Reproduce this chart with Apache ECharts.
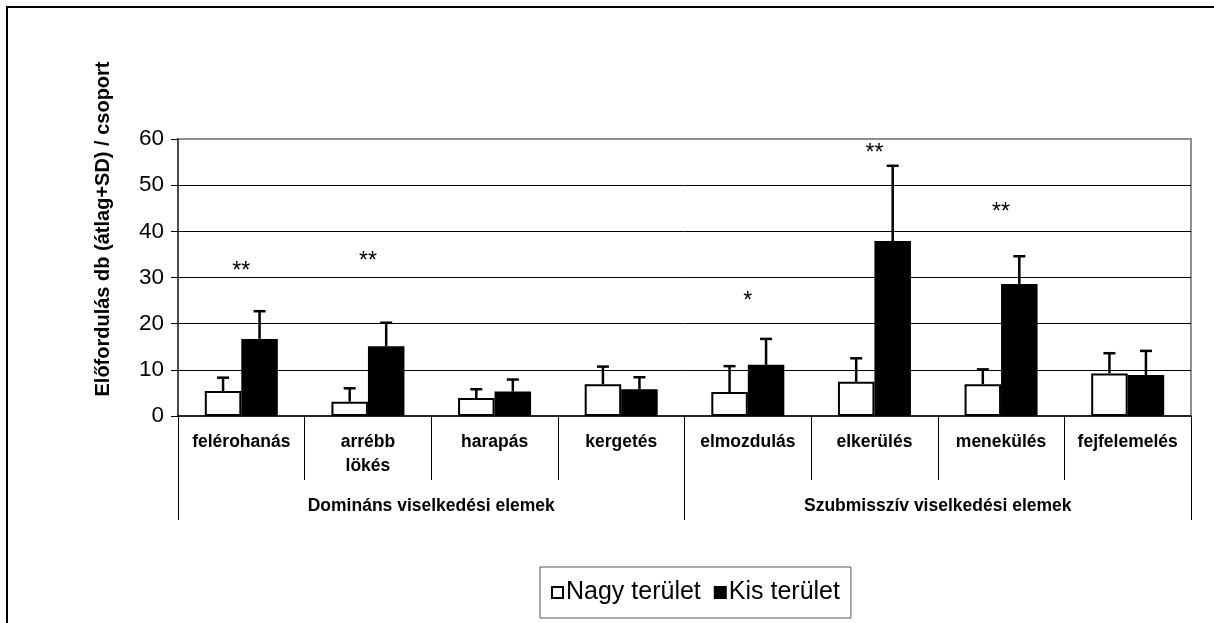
<!DOCTYPE html>
<html>
<head>
<meta charset="utf-8">
<script src="https://cdn.jsdelivr.net/npm/echarts@6/dist/echarts.min.js"></script>
<style>
  html, body { margin: 0; padding: 0; background: #fff; }
  #chart { width: 1214px; height: 623px; }
</style>
</head>
<body>
<div id="chart"></div>
<script>
const categories = ['felérohanás', 'arrébb\nlökés', 'harapás', 'kergetés', 'elmozdulás', 'elkerülés', 'menekülés', 'fejfelemelés'];
const groups = ['Domináns viselkedési elemek', 'Szubmisszív viselkedési elemek'];
const yTicks = [0, 10, 20, 30, 40, 50, 60];

// átlag + SD
const nagyMean = [5.4, 3.1, 3.9, 6.9, 5.2, 7.4, 6.9, 9.2];
const nagySD = [2.9, 2.9, 1.9, 3.8, 5.6, 5.1, 3.2, 4.4];
const kisMean = [16.7, 15.1, 5.3, 5.8, 11.1, 37.9, 28.6, 8.9];
const kisSD = [6.0, 5.1, 2.6, 2.6, 5.6, 16.3, 6.0, 5.2];

// szignifikancia jelek
const starText = ['**', '**', '', '', '*', '**', '**', ''];
const starY = [32.3, 34.6, null, null, 25.8, 58.0, 45.2, null];

const BAR_W = 36.5;
const FONT = 'Liberation Sans, Arial, sans-serif';

const myChart = echarts.init(document.getElementById('chart'));

function errorBar(offset) {
  return function (params, api) {
    const mean = api.value(1);
    const top = api.value(2);
    const p0 = api.coord([api.value(0), mean]);
    const p1 = api.coord([api.value(0), top]);
    const x = p0[0] + offset;
    const style = { stroke: '#000', lineWidth: 2.5 };
    return {
      type: 'group',
      children: [
        { type: 'line', shape: { x1: x, y1: p0[1], x2: x, y2: p1[1] }, style: style },
        { type: 'line', shape: { x1: x - 6, y1: p1[1], x2: x + 6, y2: p1[1] }, style: style },
      ],
    };
  };
}

const option = {
  animation: false,
  backgroundColor: '#fff',
  textStyle: { fontFamily: FONT },
  grid: {
    left: 178,
    right: 23,
    top: 139,
    bottom: 207,
    show: true,
    borderColor: '#909090',
    borderWidth: 2,
  },
  legend: {
    data: ['Nagy terület', 'Kis terület'],
    left: 540,
    top: 567,
    icon: 'rect',
    itemWidth: 11,
    itemHeight: 11,
    itemGap: 13,
    padding: [13, 11],
    borderColor: '#555',
    borderWidth: 1,
    textStyle: { fontSize: 25, color: '#000', fontFamily: FONT, padding: [0, 0, 0, -2] },
  },
  xAxis: [
    {
      type: 'category',
      data: categories,
      axisLine: { lineStyle: { color: '#000', width: 1.5 } },
      axisTick: { show: true, length: 64, lineStyle: { color: '#000', width: 1 } },
      axisLabel: {
        interval: 0,
        margin: 14,
        color: '#000',
        fontSize: 17.5,
        fontWeight: 'bold',
        lineHeight: 24,
        fontFamily: FONT,
      },
    },
    {
      type: 'category',
      data: groups,
      position: 'bottom',
      axisLine: { show: false },
      axisTick: { show: true, length: 104, lineStyle: { color: '#000', width: 1 } },
      axisLabel: {
        interval: 0,
        margin: 78,
        color: '#000',
        fontSize: 17.5,
        fontWeight: 'bold',
        lineHeight: 24,
        fontFamily: FONT,
      },
    },
  ],
  yAxis: {
    type: 'value',
    min: yTicks[0],
    max: yTicks[yTicks.length - 1],
    interval: 10,
    axisLine: { show: true, lineStyle: { color: '#333', width: 1.5 } },
    axisTick: { show: true, length: 7, lineStyle: { color: '#000' } },
    axisLabel: { color: '#000', fontSize: 22.5, margin: 14, fontFamily: FONT },
    splitLine: { show: true, showMinLine: false, showMaxLine: false, lineStyle: { color: '#000', width: 1 } },
  },
  graphic: [
    {
      type: 'rect',
      shape: { x: 7, y: 7, width: 1400, height: 900 },
      style: { fill: 'none', stroke: '#000', lineWidth: 2 },
      silent: true,
    },
    {
      type: 'text',
      x: 103,
      y: 229,
      rotation: Math.PI / 2,
      style: {
        text: 'Előfordulás db (átlag+SD) / csoport',
        font: 'bold 20px ' + FONT,
        fill: '#000',
        textAlign: 'center',
        textVerticalAlign: 'middle',
      },
    },
  ],
  series: [
    {
      name: 'Nagy terület',
      type: 'bar',
      barWidth: BAR_W,
      barGap: '0%',
      data: nagyMean,
      itemStyle: { color: '#fff', borderColor: '#000', borderWidth: 2 },
    },
    {
      name: 'Kis terület',
      type: 'bar',
      barWidth: BAR_W,
      barGap: '0%',
      data: kisMean,
      itemStyle: { color: '#000', borderColor: '#000', borderWidth: 2 },
    },
    {
      name: 'Nagy SD',
      type: 'custom',
      renderItem: errorBar(-BAR_W / 2),
      data: nagyMean.map((m, i) => [i, m, m + nagySD[i]]),
      z: 3,
    },
    {
      name: 'Kis SD',
      type: 'custom',
      renderItem: errorBar(BAR_W / 2),
      data: kisMean.map((m, i) => [i, m, m + kisSD[i]]),
      z: 3,
    },
    {
      name: 'csillag',
      type: 'custom',
      data: starY.map((y, i) => [i, y, starText[i]]).filter((d) => d[1] !== null),
      renderItem: function (params, api) {
        const p = api.coord([api.value(0), api.value(1)]);
        return {
          type: 'text',
          x: p[0],
          y: p[1] + 5,
          style: {
            text: starText[api.value(0)],
            font: '23px ' + FONT,
            fill: '#000',
            textAlign: 'center',
            textVerticalAlign: 'middle',
          },
        };
      },
      z: 4,
    },
  ],
};

myChart.setOption(option);
</script>
</body>
</html>
